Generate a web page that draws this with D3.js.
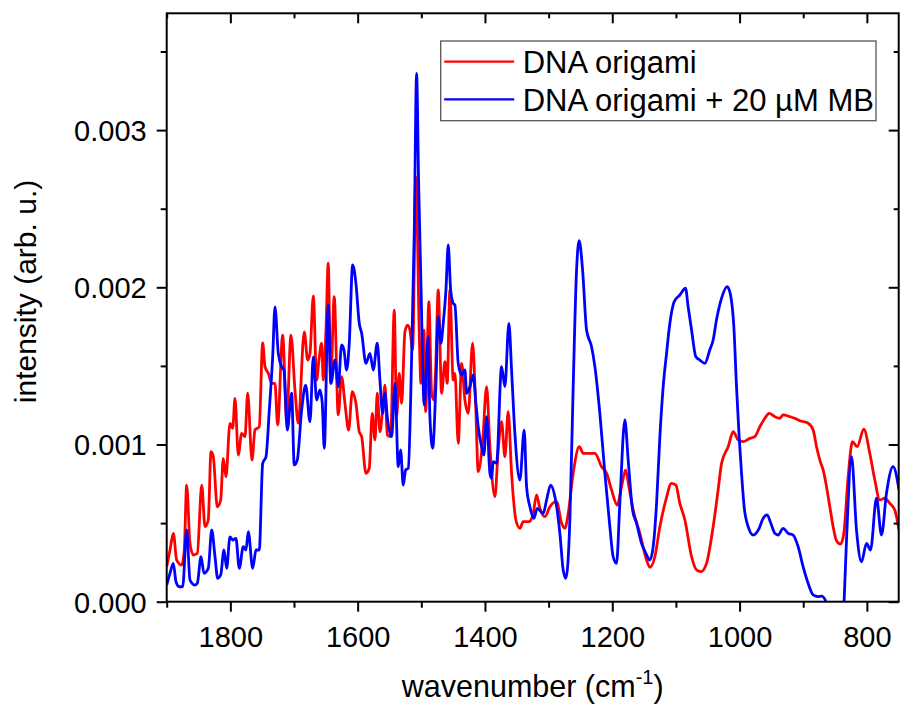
<!DOCTYPE html>
<html>
<head>
<meta charset="utf-8">
<script src="https://cdn.jsdelivr.net/npm/d3@7"></script>
<style>
  body { margin: 0; background: #fff; }
  text { font-family: "Liberation Sans", Arial, sans-serif; fill: #000; }
</style>
</head>
<body>
<div id="chart"></div>
<script>
// wavenumber (cm-1) and intensity
var redWavenumber = [1900, 1894.8, 1889.6, 1884.3, 1876.4, 1872.4, 1868.6, 1863.4, 1858.2, 1851.9,
    1845, 1839.8, 1834.7, 1830.4, 1826.8, 1820.5, 1815.2, 1811.1, 1806.9, 1800.6,
    1796.3, 1792.7, 1787.5, 1782.2, 1777, 1772.8, 1766, 1761.3, 1754.6, 1749.2,
    1745.6, 1740.4, 1735.1, 1729.9, 1725.7, 1717.8, 1711.5, 1704.8, 1698.5, 1693.3,
    1683.9, 1678.5, 1674.9, 1669.7, 1664.4, 1660.8, 1656.6, 1654, 1649.8, 1646.2,
    1642.4, 1636.8, 1630.5, 1625.2, 1620, 1614.2, 1608.5, 1602.7, 1597.5, 1593.7,
    1587, 1581.8, 1577.1, 1572.8, 1569.2, 1565, 1560.8, 1557.1, 1553.5, 1548.2,
    1542.5, 1538.8, 1534.7, 1530.9, 1525.7, 1521.5, 1517.9, 1513.6, 1508.5, 1503.2,
    1500.6, 1495.9, 1493.2, 1488.1, 1483.8, 1480.2, 1477.5, 1473.4, 1468.1, 1462.9,
    1459.3, 1455.1, 1449.9, 1447.2, 1442, 1436.7, 1431.5, 1426.3, 1419.4, 1414.7,
    1410.6, 1403.7, 1397.4, 1392.2, 1384.4, 1379.2, 1373.9, 1368.7, 1363.5, 1358.2,
    1351.4, 1345.1, 1339.9, 1330.5, 1324.2, 1318.9, 1313.7, 1305.8, 1298, 1287.5,
    1279.6, 1274.4, 1269.2, 1261.4, 1251.9, 1245.6, 1235.2, 1227.3, 1216.8, 1208.9,
    1201.1, 1192.3, 1185.4, 1179.1, 1173.9, 1167.1, 1156.6, 1146.1, 1141, 1133.1,
    1125.2, 1115.8, 1106.9, 1100.1, 1093.8, 1085.9, 1075.4, 1067.6, 1060.8, 1051.9,
    1041.5, 1033.7, 1028.3, 1017.9, 1010, 1002.2, 994.4, 983.9, 976, 968.2,
    960.3, 953.5, 944.6, 936.7, 931.5, 921, 913.2, 905.3, 892.3, 884.4,
    879.1, 873.9, 868.7, 863.4, 858.2, 853, 847.7, 841.4, 836.2, 829.4,
    822.6, 815.3, 804.8, 795.4, 787.5, 779.7, 771.8, 764, 756.1, 749.5];
var redIntensity = [0.000223, 0.000329, 0.000435, 0.000265, 0.000233, 0.000329, 0.000742, 0.000371, 0.000297, 0.000308,
    0.000742, 0.000477, 0.00052, 0.000954, 0.000922, 0.000604, 0.000647, 0.000912, 0.000795, 0.001135,
    0.001103, 0.001294, 0.000933, 0.001071, 0.00105, 0.001326, 0.000901, 0.001092, 0.001113, 0.001647,
    0.001495, 0.001453, 0.001389, 0.001389, 0.001124, 0.001696, 0.001156, 0.001696, 0.001347, 0.001135,
    0.001717, 0.001537, 0.00158, 0.001946, 0.00141, 0.001537, 0.001644, 0.00141, 0.001728, 0.002153,
    0.001389, 0.00194, 0.001188, 0.001431, 0.001262, 0.001092, 0.001336, 0.001262, 0.001081, 0.00105,
    0.000817, 0.000849, 0.001198, 0.001029, 0.001326, 0.001081, 0.001219, 0.001378, 0.00106, 0.00105,
    0.001855, 0.001177, 0.001453, 0.001262, 0.001717, 0.00176, 0.001728, 0.001601, 0.002703, 0.001707,
    0.001389, 0.001728, 0.001209, 0.001908, 0.001326, 0.001283, 0.001474, 0.001983, 0.001326, 0.001527,
    0.001389, 0.001983, 0.00141, 0.001453, 0.001008, 0.001516, 0.001283, 0.001198, 0.001644, 0.001262,
    0.000827, 0.001018, 0.001368, 0.000986, 0.000668, 0.000965, 0.001145, 0.000922, 0.001209, 0.000817,
    0.00052, 0.000467, 0.000509, 0.000509, 0.000562, 0.000679, 0.000594, 0.000541, 0.000604, 0.000636,
    0.000499, 0.000467, 0.000562, 0.000817, 0.000986, 0.000944, 0.000944, 0.000944, 0.000859, 0.000817,
    0.000711, 0.000615, 0.000732, 0.000838, 0.000732, 0.000583, 0.000435, 0.000265, 0.000219, 0.000286,
    0.000477, 0.000647, 0.000753, 0.000742, 0.000626, 0.00052, 0.000286, 0.000202, 0.000191, 0.000244,
    0.000477, 0.000711, 0.00088, 0.000986, 0.001081, 0.001029, 0.001018, 0.001039, 0.00105, 0.001113,
    0.001167, 0.001198, 0.001177, 0.001167, 0.001188, 0.001177, 0.001167, 0.001151, 0.001135, 0.001092,
    0.000986, 0.000901, 0.000838, 0.000732, 0.000604, 0.000477, 0.000388, 0.000367, 0.000435, 0.000795,
    0.001018, 0.000986, 0.001097, 0.000944, 0.000774, 0.000647, 0.000658, 0.000626, 0.000583, 0.000456];

var blueWavenumber = [1900, 1894.8, 1889.6, 1885.4, 1880.2, 1874.9, 1868.6, 1863.4, 1855.5, 1851.9,
    1846.1, 1841.4, 1834.7, 1829.3, 1824.1, 1819.9, 1815.2, 1810, 1805.8, 1800.6,
    1796.3, 1791.2, 1786, 1779.7, 1775.5, 1771.8, 1764.9, 1759.7, 1754.6, 1749.2,
    1744, 1738.8, 1733.5, 1729.9, 1724.7, 1719.4, 1715.8, 1710.6, 1703.7, 1699.6,
    1694.9, 1688, 1681.7, 1674.9, 1669.7, 1664.4, 1659.2, 1655.6, 1652.5, 1646.2,
    1642, 1635.7, 1630.5, 1625.2, 1621.5, 1617.3, 1613.2, 1607.9, 1602.7, 1597.5,
    1593.7, 1587, 1580.7, 1575.5, 1569.2, 1565, 1560.8, 1557.1, 1553.5, 1546.6,
    1541.4, 1536.2, 1532.5, 1528.4, 1524.6, 1520.5, 1515.2, 1511.1, 1507.4, 1504.2,
    1500.6, 1495.4, 1489.1, 1486.5, 1482.2, 1477, 1473.4, 1469.2, 1465.6, 1461.3,
    1457.7, 1453.9, 1449.9, 1447.2, 1442, 1436.7, 1431.5, 1428.8, 1423.6, 1418.4,
    1414.2, 1410.6, 1405.3, 1401.7, 1397.4, 1392.2, 1389.6, 1387, 1381.8, 1373.9,
    1368.7, 1362.4, 1358.2, 1353, 1345.1, 1338.4, 1334.6, 1329.4, 1323.1, 1317.9,
    1308.5, 1303.2, 1296.9, 1290.1, 1282.3, 1277.1, 1272.9, 1266.6, 1261.4, 1256.1,
    1252, 1246.6, 1240.4, 1232.5, 1227.3, 1219.5, 1211.6, 1203.8, 1198.6, 1193.3,
    1188.1, 1180.2, 1175, 1168.1, 1161.8, 1154, 1147.2, 1140.9, 1135.7, 1130.4,
    1125.2, 1120, 1114.7, 1109.5, 1102.8, 1093.8, 1084.9, 1080.8, 1075.4, 1068.7,
    1062.4, 1054.6, 1046.8, 1041.5, 1036.3, 1028.4, 1019.5, 1014.2, 1009, 1004.8,
    1000.7, 996.9, 992.8, 986.5, 978.7, 969.2, 963, 956.7, 950.9, 944.6,
    939.4, 931.5, 923.7, 915.8, 908, 900.2, 892.3, 884.4, 876.6, 871.3,
    863.4, 855, 845, 835.8, 832, 824.1, 816.3, 808.4, 800.6, 794.3,
    784.9, 777, 769.2, 758.8, 749.5];
var blueIntensity = [0.000106, 0.000181, 0.000244, 0.000127, 0.000095, 0.000095, 0.000456, 0.000138, 0.000106, 0.000117,
    0.000286, 0.000181, 0.000212, 0.000456, 0.000286, 0.000149, 0.00017, 0.000329, 0.000212, 0.000413,
    0.000392, 0.000403, 0.000212, 0.00035, 0.000329, 0.000445, 0.000212, 0.000329, 0.000329, 0.00088,
    0.000922, 0.001219, 0.001558, 0.001876, 0.00158, 0.001495, 0.001474, 0.001092, 0.001326, 0.00087,
    0.000901, 0.001219, 0.001378, 0.001145, 0.001558, 0.001283, 0.001347, 0.001262, 0.000976, 0.001887,
    0.001389, 0.001537, 0.001368, 0.001633, 0.0016, 0.001474, 0.001644, 0.002142, 0.002025, 0.001771,
    0.001707, 0.001516, 0.00158, 0.001474, 0.001644, 0.00141, 0.001198, 0.001326, 0.001177, 0.00105,
    0.001389, 0.000859, 0.000965, 0.000742, 0.000838, 0.000849, 0.001558, 0.002343, 0.003361, 0.002661,
    0.002025, 0.001251, 0.001686, 0.001177, 0.000976, 0.001389, 0.001813, 0.001644, 0.001771, 0.001983,
    0.002269, 0.001983, 0.001898, 0.001887, 0.001516, 0.001442, 0.001474, 0.001326, 0.001368, 0.001442,
    0.001262, 0.001113, 0.000986, 0.000933, 0.001177, 0.000817, 0.000785, 0.000891, 0.00088, 0.001495,
    0.001368, 0.001771, 0.001474, 0.001071, 0.000774, 0.001092, 0.000732, 0.000604, 0.00053, 0.000594,
    0.000562, 0.000647, 0.000742, 0.000668, 0.000435, 0.000202, 0.000149, 0.00052, 0.001368, 0.00211,
    0.002296, 0.00211, 0.001728, 0.001622, 0.001495, 0.001198, 0.000817, 0.000477, 0.000286, 0.000244,
    0.000626, 0.001156, 0.000901, 0.000583, 0.000499, 0.000371, 0.000308, 0.000265, 0.00035, 0.000626,
    0.00105, 0.001368, 0.00158, 0.001771, 0.001908, 0.001951, 0.001994, 0.001876, 0.001728, 0.001558,
    0.001537, 0.001516, 0.001601, 0.001665, 0.001792, 0.00193, 0.002004, 0.001951, 0.001749, 0.001368,
    0.00105, 0.000817, 0.000604, 0.000477, 0.000424, 0.000467, 0.00053, 0.000552, 0.000499, 0.000435,
    0.000424, 0.000467, 0.000435, 0.000424, 0.00035, 0.000223, 0.000117, 0.000043, 0.000032, 0.000035,
    -0.00001, -0.0003, -0.0004, 0.0, 0.000392, 0.000922, 0.000456, 0.000254, 0.000371, 0.000329,
    0.000658, 0.000424, 0.00069, 0.000859, 0.000711];

var xMajorTicks = [1800, 1600, 1400, 1200, 1000, 800];
var xMinorTicks = [1900, 1700, 1500, 1300, 1100, 900];
var yMajorTicks = [0, 0.001, 0.002, 0.003];
var yMinorTicks = [0.0005, 0.0015, 0.0025, 0.0035];
var seriesNames = ["DNA origami", "DNA origami + 20 \u00b5M MB"];
var seriesColors = ["#ff0000", "#0000ff"];

var width = 900, height = 706;
var margin = { left: 166.7, right: 1.3, top: 13.3, bottom: 104.3 };
var plotW = width - margin.left - margin.right;
var plotH = height - margin.top - margin.bottom;

var svg = d3.select("#chart").append("svg")
    .attr("width", width).attr("height", height);

var x = d3.scaleLinear().domain([1900, 750]).range([0, plotW]);
var y = d3.scaleLinear().domain([0, 0.003743]).range([plotH, 0]);

var g = svg.append("g").attr("transform", "translate(" + margin.left + "," + margin.top + ")");

g.append("clipPath").attr("id", "clip")
    .append("rect").attr("width", plotW).attr("height", plotH);

var line = d3.line()
    .x(function(d) { return x(d[0]); })
    .y(function(d) { return y(d[1]); })
    .curve(d3.curveMonotoneX);

var series = [
    d3.zip(redWavenumber, redIntensity),
    d3.zip(blueWavenumber, blueIntensity)
];

g.selectAll("path.series")
    .data(series)
    .enter()
    .append("path")
    .attr("class", "series")
    .attr("clip-path", "url(#clip)")
    .attr("d", line)
    .style("fill", "none")
    .style("stroke", function(d, i) { return seriesColors[i]; })
    .style("stroke-width", 2.8)
    .style("stroke-linejoin", "round");

// axes: major + minor ticks, outside on bottom/left, inside on top/right
function styleAxis(sel) {
    sel.select(".domain").remove();
    sel.selectAll("line").style("stroke", "#000").style("stroke-width", 2);
    sel.selectAll("text")
        .style("font-size", "29px")
        .style("font-family", "'Liberation Sans', Arial, sans-serif");
}

g.append("g").attr("transform", "translate(0," + plotH + ")")
    .call(d3.axisBottom(x).tickValues(xMajorTicks).tickSize(10).tickPadding(15).tickFormat(d3.format("d")))
    .call(styleAxis);
g.append("g").attr("transform", "translate(0," + plotH + ")")
    .call(d3.axisBottom(x).tickValues(xMinorTicks).tickSize(6).tickFormat(""))
    .call(styleAxis);
g.append("g")
    .call(d3.axisTop(x).tickValues(xMajorTicks).tickSize(-10).tickFormat(""))
    .call(styleAxis);
g.append("g")
    .call(d3.axisTop(x).tickValues(xMinorTicks).tickSize(-5).tickFormat(""))
    .call(styleAxis);

g.append("g")
    .call(d3.axisLeft(y).tickValues(yMajorTicks).tickSize(10).tickPadding(10).tickFormat(d3.format(".3f")))
    .call(styleAxis)
    .selectAll("text").attr("dy", "0.36em");
g.append("g")
    .call(d3.axisLeft(y).tickValues(yMinorTicks).tickSize(6).tickFormat(""))
    .call(styleAxis);
g.append("g").attr("transform", "translate(" + plotW + ",0)")
    .call(d3.axisRight(y).tickValues(yMajorTicks).tickSize(-10).tickFormat(""))
    .call(styleAxis);
g.append("g").attr("transform", "translate(" + plotW + ",0)")
    .call(d3.axisRight(y).tickValues(yMinorTicks).tickSize(-5).tickFormat(""))
    .call(styleAxis);

// frame
g.append("rect")
    .attr("width", plotW).attr("height", plotH)
    .style("fill", "none").style("stroke", "#000").style("stroke-width", 2);

// axis titles
var xTitle = svg.append("text")
    .attr("x", margin.left + plotW / 2)
    .attr("y", 696.7)
    .attr("text-anchor", "middle")
    .style("font-size", "30.5px");
xTitle.append("tspan").text("wavenumber (cm");
xTitle.append("tspan").attr("dy", -13).style("font-size", "20px").text("-1");
xTitle.append("tspan").attr("dy", 13).text(")");

svg.append("text")
    .attr("transform", "translate(36,291.5) rotate(-90)")
    .attr("text-anchor", "middle")
    .style("font-size", "30px")
    .text("intensity (arb. u.)");

// legend
var legend = svg.append("g").attr("transform", "translate(440.7,41)");
legend.append("rect")
    .attr("width", 435.3).attr("height", 79.7)
    .style("fill", "#fff").style("stroke", "#555").style("stroke-width", 1.3);

var rows = legend.selectAll("g.row")
    .data(seriesNames)
    .enter()
    .append("g")
    .attr("class", "row")
    .attr("transform", function(d, i) { return "translate(0," + (20.7 + i * 37.6) + ")"; });
rows.append("line")
    .attr("x1", 3.5).attr("x2", 73.5)
    .style("stroke", function(d, i) { return seriesColors[i]; })
    .style("stroke-width", 2.2);
rows.append("text")
    .attr("x", 82)
    .attr("y", 11.3)
    .style("font-size", "31px")
    .text(function(d) { return d; });
</script>
</body>
</html>
